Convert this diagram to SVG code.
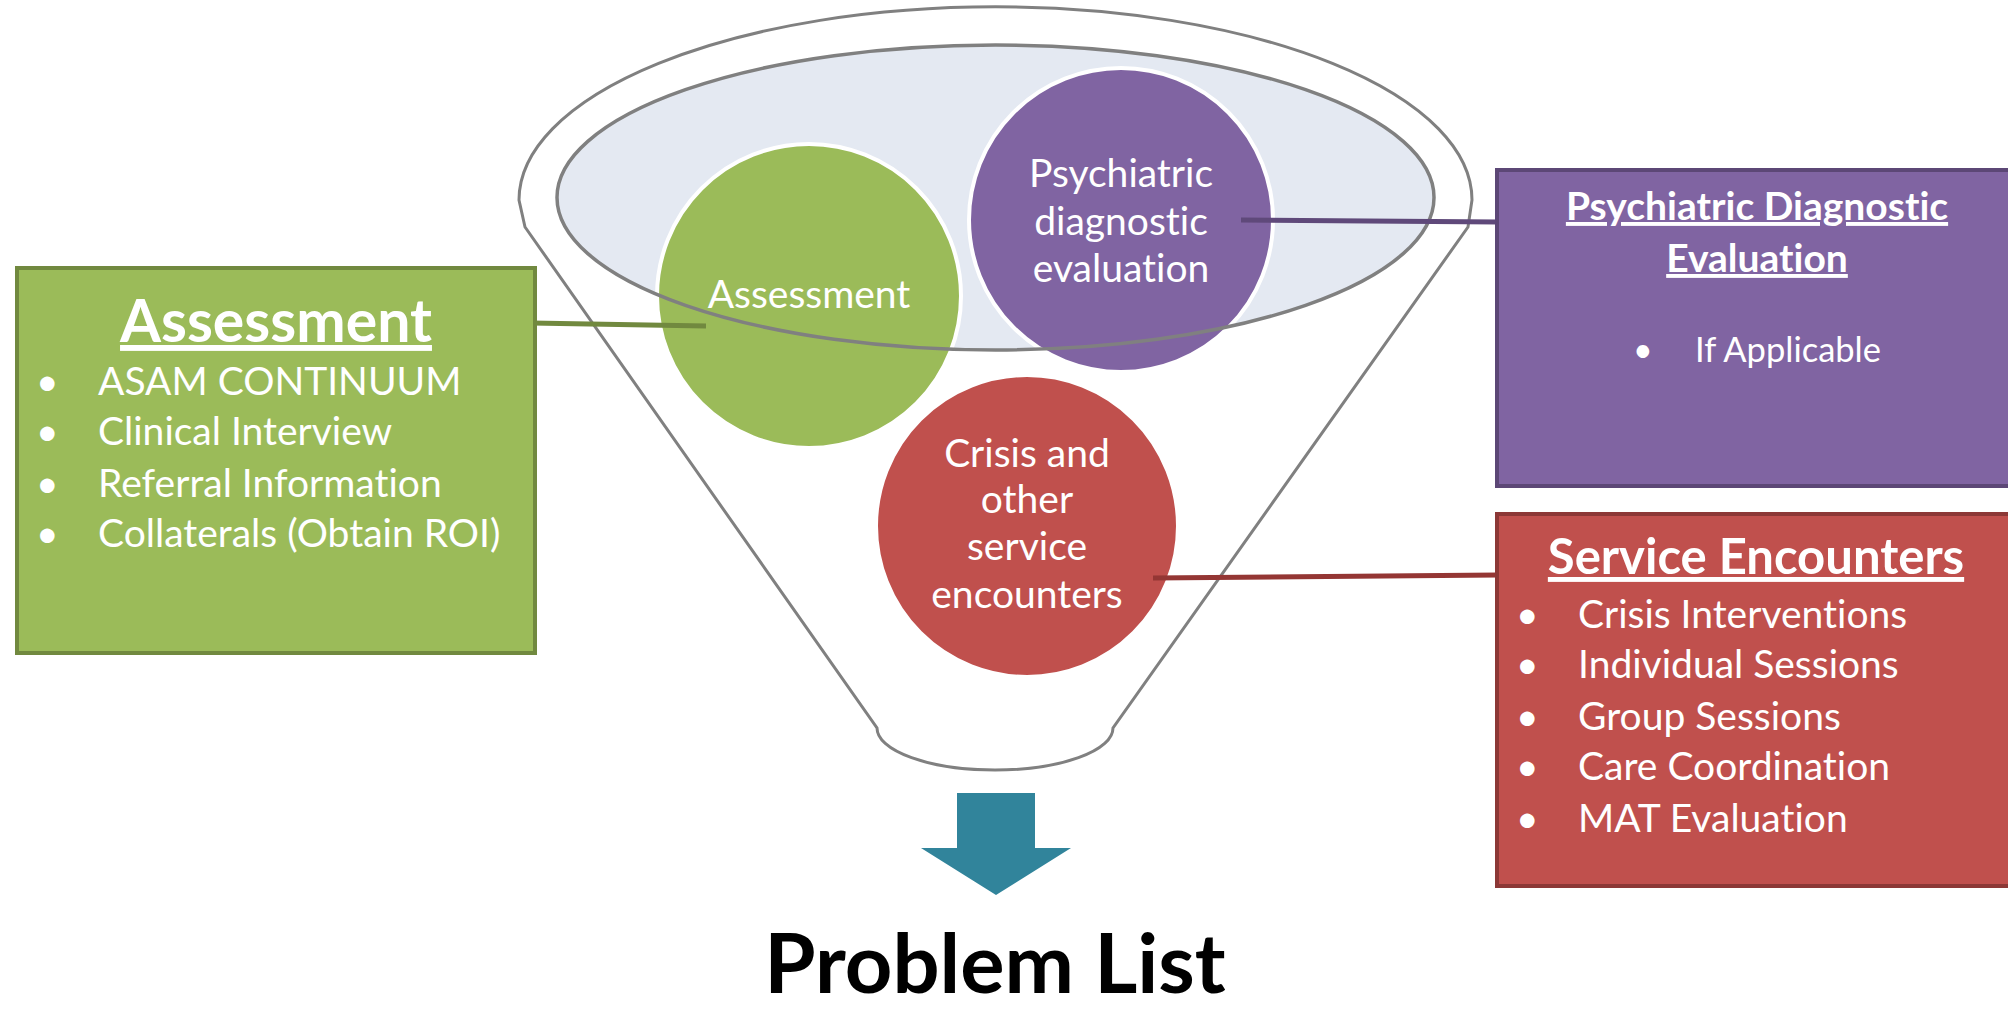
<svg xmlns="http://www.w3.org/2000/svg" width="2008" height="1010" viewBox="0 0 2008 1010">
<style>
text{font-variant-ligatures:none}
.t{font-family:Lato,"Open Sans","Liberation Sans",sans-serif;fill:#fff}
.c{text-anchor:middle;font-size:39px}
.b{font-size:39px}
.h{font-weight:bold;text-anchor:middle;text-decoration:underline}
.funnel{fill:none;stroke:#808080;stroke-width:3}
.conn{stroke-width:5;fill:none}
</style>
<rect width="2008" height="1010" fill="#fff"/>
<g id="funnel">
<path class="funnel" d="M525,227 L519,200 A476,193 0 0 1 1472,200 L1468,227 L1113,728 A118,42 0 0 1 877,728 Z"/>
<ellipse cx="995.5" cy="197.5" rx="438.5" ry="152.5" fill="#E4E9F2"/>
</g>
<g id="circle-assessment">
<circle cx="809" cy="296" r="152" fill="#9BBB59" stroke="#fff" stroke-width="4"/>
<text class="t c" x="809" y="308">Assessment</text>
</g>
<g id="circle-psych">
<circle cx="1121" cy="220" r="152" fill="#8064A2" stroke="#fff" stroke-width="4"/>
<text class="t c" x="1121" y="187">Psychiatric</text>
<text class="t c" x="1121" y="235">diagnostic</text>
<text class="t c" x="1121" y="282">evaluation</text>
</g>
<g id="circle-crisis">
<circle cx="1027" cy="526" r="151" fill="#C0504D" stroke="#fff" stroke-width="4"/>
<text class="t c" x="1027" y="467">Crisis and</text>
<text class="t c" x="1027" y="513">other</text>
<text class="t c" x="1027" y="560">service</text>
<text class="t c" x="1027" y="608">encounters</text>
</g>
<ellipse cx="995.5" cy="197.5" rx="438.5" ry="152.5" fill="none" stroke="#808080" stroke-width="3.5"/>
<g id="connectors">
<line class="conn" x1="531" y1="323" x2="706" y2="326" stroke="#71893F"/>
<line class="conn" x1="1241" y1="220" x2="1498" y2="222" stroke="#5F497A"/>
<line class="conn" x1="1153" y1="578" x2="1498" y2="575" stroke="#943634"/>
</g>
<g id="box-assessment">
<rect x="17" y="268" width="518" height="385" fill="#9BBB59" stroke="#71893F" stroke-width="4"/>
<text class="t h" x="276" y="342" font-size="59">Assessment</text>
<g class="t b">
<text x="36" y="395">•</text><text x="98" y="395">ASAM CONTINUUM</text>
<text x="36" y="445">•</text><text x="98" y="445">Clinical Interview</text>
<text x="36" y="497">•</text><text x="98" y="497">Referral Information</text>
<text x="36" y="547">•</text><text x="98" y="547">Collaterals (Obtain ROI)</text>
</g>
</g>
<g id="box-psych">
<rect x="1497" y="170" width="530" height="316" fill="#8064A2" stroke="#5C4776" stroke-width="4"/>
<text class="t h" x="1757" y="220" font-size="39">Psychiatric Diagnostic</text>
<text class="t h" x="1757" y="272" font-size="39">Evaluation</text>
<text class="t" x="1633" y="362" font-size="34">•</text>
<text class="t" x="1695" y="362" font-size="34.5">If Applicable</text>
</g>
<g id="box-service">
<rect x="1497" y="514" width="530" height="372" fill="#C0504D" stroke="#8C3836" stroke-width="4"/>
<text class="t h" x="1756" y="574" font-size="49">Service Encounters</text>
<g class="t b">
<text x="1516" y="628">•</text><text x="1578" y="628">Crisis Interventions</text>
<text x="1516" y="678">•</text><text x="1578" y="678">Individual Sessions</text>
<text x="1516" y="730">•</text><text x="1578" y="730">Group Sessions</text>
<text x="1516" y="780">•</text><text x="1578" y="780">Care Coordination</text>
<text x="1516" y="832">•</text><text x="1578" y="832">MAT Evaluation</text>
</g>
</g>
<g id="arrow">
<polygon points="957,793 1035,793 1035,848 1071,848 996,895 921,848 957,848" fill="#31849B"/>
</g>
<g id="problem-list">
<text x="995" y="993" font-family="Lato,'Open Sans','Liberation Sans',sans-serif" font-weight="bold" font-size="83" text-anchor="middle" fill="#000">Problem List</text>
</g>
</svg>
